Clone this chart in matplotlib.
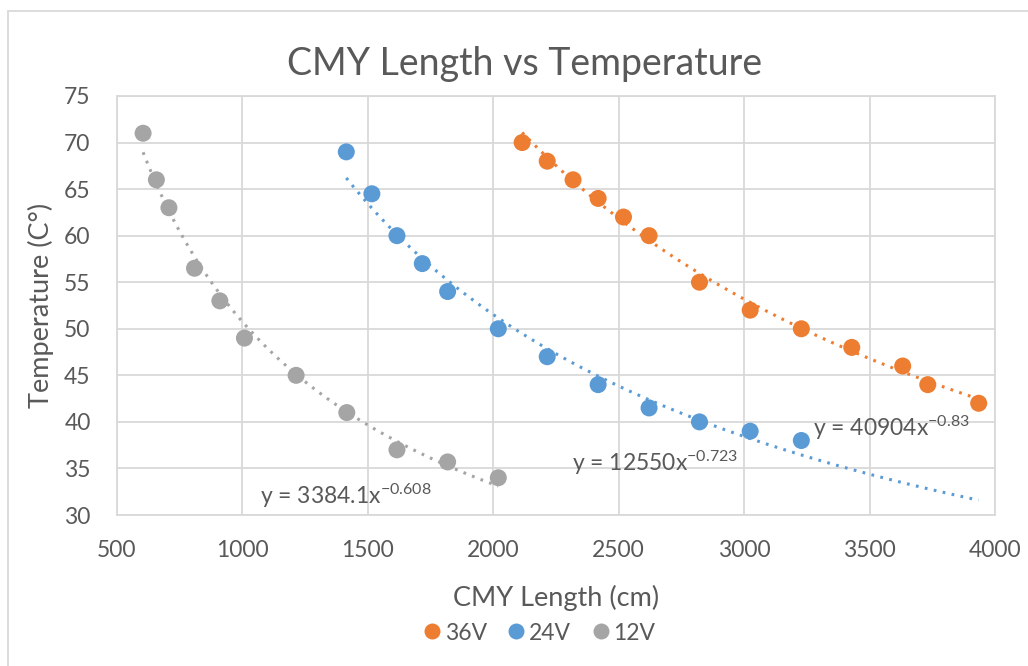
import numpy as np
import matplotlib
matplotlib.use("Agg")
import matplotlib.pyplot as plt
from matplotlib.patches import Rectangle
from matplotlib.lines import Line2D

# ---------------- data ----------------
x_36 = [2115, 2215, 2318, 2418, 2519, 2621, 2822, 3024, 3228, 3429, 3632, 3732, 3935]
t_36 = [70, 68, 66, 64, 62, 60, 55, 52, 50, 48, 46, 44, 42]
x_24 = [1414, 1516, 1616, 1717, 1818, 2020, 2215, 2418, 2621, 2822, 3024, 3228]
t_24 = [69, 64.5, 60, 57, 54, 50, 47, 44, 41.5, 40, 39, 38]
x_12 = [604, 657, 707, 809, 910, 1008, 1214, 1416, 1616, 1818, 2020]
t_12 = [71, 66, 63, 56.5, 53, 49, 45, 41, 37, 35.7, 34]

series_names = ["36V", "24V", "12V"]
trend_a = [40904, 12550, 3384.1]
trend_b = [-0.83, -0.723, -0.608]
trend_labels = ["y = 40904x$^{-0.83}$", "y = 12550x$^{-0.723}$", "y = 3384.1x$^{-0.608}$"]
trend_end = [3935, 3935, 2020]

x_ticks = [500, 1000, 1500, 2000, 2500, 3000, 3500, 4000]
y_ticks = [30, 35, 40, 45, 50, 55, 60, 65, 70, 75]

# ---------------- style ----------------
FONT = "Lato"
plt.rcParams["font.family"] = [FONT, "DejaVu Sans"]
plt.rcParams["mathtext.fontset"] = "custom"
plt.rcParams["mathtext.rm"] = FONT
plt.rcParams["mathtext.it"] = FONT
plt.rcParams["mathtext.bf"] = FONT

colors = ["#ED7D31", "#5B9BD5", "#A5A5A5"]
txt = "#595959"
grid = "#D9D9D9"

W, H = 1028, 666
fig = plt.figure(figsize=(W / 100, H / 100), dpi=100)
L, R, T, B = 117, 995, 96, 515
ax = fig.add_axes([L / W, 1 - B / H, (R - L) / W, (B - T) / H])

# chart-area border
fig.patches.append(Rectangle((8 / W, -0.1), 1.2, 1 - 11 / H + 0.1, transform=fig.transFigure,
                             fill=False, edgecolor=grid, linewidth=1.3))

xs = [x_36, x_24, x_12]
ts = [t_36, t_24, t_12]
for i in range(3):
    ax.scatter(xs[i], ts[i], s=150, color=colors[i], edgecolors="none", zorder=3, label=series_names[i])
    xx = np.linspace(min(xs[i]), trend_end[i], 200)
    ax.plot(xx, trend_a[i] * xx ** trend_b[i], color=colors[i], lw=2.2,
            linestyle=(0, (0.9, 2.1)), zorder=4)

ax.set_xlim(500, 4000)
ax.set_ylim(30, 75)
ax.set_xticks(x_ticks)
ax.set_yticks(y_ticks)
ax.grid(True, color=grid, linewidth=1.3)
ax.set_axisbelow(True)
for s in ax.spines.values():
    s.set_color(grid)
    s.set_linewidth(1.3)
ax.tick_params(length=0, labelsize=16.5, labelcolor=txt)
ax.tick_params(axis="x", pad=18)
ax.tick_params(axis="y", pad=19)

ax.set_title("CMY Length vs Temperature", fontsize=27, color=txt, pad=15,
             x=(525 - L) / (R - L))
ax.set_xlabel("CMY Length (cm)", fontsize=19.5, color=txt, labelpad=17)
ax.set_ylabel("Temperature (C°)", fontsize=19.5, color=txt, labelpad=7)

# trendline equations
label_pos = [(3275, 39.4), (2314, 35.6), (1070, 32.1)]
for i in range(3):
    ax.text(label_pos[i][0], label_pos[i][1], trend_labels[i], fontsize=16.5, color=txt,
            ha="left", va="center", zorder=5)

handles = [Line2D([], [], marker="o", linestyle="none", markersize=11.5, color=c,
                  markeredgewidth=0) for c in colors]
fig.legend(handles, series_names, loc="center", bbox_to_anchor=(538 / W, 1 - 633 / H),
           ncol=3, frameon=False, fontsize=16.5, labelcolor=txt, handletextpad=0.05,
           columnspacing=0.8, handlelength=1.0)

fig.savefig("out.png", dpi=100)
